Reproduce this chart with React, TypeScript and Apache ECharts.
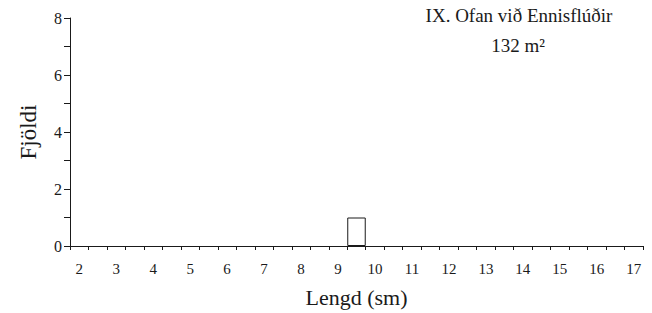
import React, { useEffect, useRef } from "react";
import * as echarts from "echarts";

const categories: string[] = [
  "2", "2.5", "3", "3.5", "4", "4.5", "5", "5.5", "6", "6.5", "7", "7.5",
  "8", "8.5", "9", "9.5", "10", "10.5", "11", "11.5", "12", "12.5", "13", "13.5",
  "14", "14.5", "15", "15.5", "16", "16.5", "17",
];
const counts: (number | string)[] = [
  "-", "-", "-", "-", "-", "-", "-", "-", "-", "-", "-", "-",
  "-", "-", "-", 1, "-", "-", "-", "-", "-", "-", "-", "-",
  "-", "-", "-", "-", "-", "-", "-",
];
const titleLine1 = "IX. Ofan við Ennisflúðir";
const titleLine2 = "132 m²";
const xName = "Lengd (sm)";
const yName = "Fjöldi";

const FONT = "'Liberation Serif', 'Times New Roman', serif";
const INK = "#1a1a1a";

export default function App() {
  const ref = useRef<HTMLDivElement>(null);
  useEffect(() => {
    if (!ref.current) return;
    document.body.style.margin = "0";
    const chart = echarts.init(ref.current, undefined, { renderer: "svg" });
    chart.setOption({
      animation: false,
      backgroundColor: "#ffffff",
      grid: { left: 70, right: 9, top: 18, bottom: 63, containLabel: false },
      graphic: [
        {
          type: "text",
          x: 519,
          y: 15,
          style: {
            text: titleLine1,
            font: `19px ${FONT}`,
            fill: INK,
            textAlign: "center",
            textVerticalAlign: "middle",
          },
        },
        {
          type: "text",
          x: 518,
          y: 45,
          style: {
            text: titleLine2,
            font: `19px ${FONT}`,
            fill: INK,
            textAlign: "center",
            textVerticalAlign: "middle",
          },
        },
      ],
      xAxis: {
        type: "category",
        data: categories,
        boundaryGap: true,
        name: xName,
        nameLocation: "middle",
        nameGap: 40,
        nameTextStyle: { fontFamily: FONT, fontSize: 22, color: INK },
        axisLine: { show: true, lineStyle: { color: INK, width: 1 } },
        axisTick: { show: true, interval: 0, length: 4, inside: false, lineStyle: { color: INK } },
        axisLabel: {
          interval: 1,
          fontFamily: FONT,
          fontSize: 15,
          color: INK,
          margin: 15,
        },
        splitLine: { show: false },
      },
      yAxis: {
        type: "value",
        min: 0,
        max: 8,
        interval: 1,
        name: yName,
        nameLocation: "middle",
        nameRotate: 90,
        nameGap: 30,
        nameTextStyle: { fontFamily: FONT, fontSize: 23, color: INK },
        axisLine: { show: true, lineStyle: { color: INK, width: 1 } },
        axisTick: { show: true, length: 6, lineStyle: { color: INK } },
        axisLabel: {
          fontFamily: FONT,
          fontSize: 16,
          color: INK,
          margin: 8,
          formatter: (v: number) => (v % 2 === 0 ? String(v) : ""),
        },
        splitLine: { show: false },
      },
      series: [
        {
          type: "bar",
          data: counts,
          barWidth: "100%",
          itemStyle: { color: "#ffffff", borderColor: INK, borderWidth: 1, borderRadius: 0 },
          silent: true,
        },
      ],
    });
    return () => chart.dispose();
  }, []);
  return <div ref={ref} style={{ width: 652, height: 313 }} />;
}
